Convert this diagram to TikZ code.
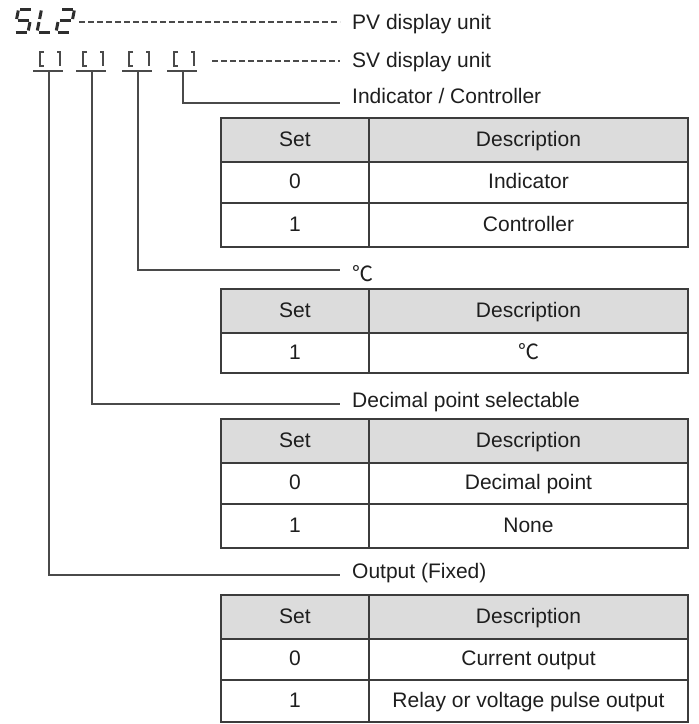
\documentclass[tikz,border=0pt]{standalone}
\usepackage{fontspec}
\setmainfont{Liberation Sans}
\newfontfamily\cjkfont{Noto Sans CJK SC}
\definecolor{lnc}{HTML}{4A4A4A}
\definecolor{tbc}{HTML}{3C3C3C}
\definecolor{hdrc}{HTML}{DCDCDC}
\definecolor{txc}{HTML}{1E1E1E}
\definecolor{segc}{HTML}{2E2E2E}
\definecolor{brc}{HTML}{4A4A4A}
\tikzset{
  seg/.style={draw=segc, line width=3pt, line cap=butt},
  brk/.style={draw=brc, line width=1.3pt},
  conn/.style={draw=lnc, line width=1.4pt},
  dashconn/.style={draw=lnc, line width=1.1pt, dash pattern=on 6pt off 3pt},
  lbl/.style={anchor=base west, inner sep=0pt, text=txc, font=\fontsize{21}{25}\selectfont},
  cell/.style={anchor=base, inner sep=0pt, text=txc, font=\fontsize{21}{25}\selectfont},
  hdr/.style={fill=hdrc},
  inner/.style={draw=tbc, line width=1.4pt},
  outer/.style={draw=tbc, line width=2pt},
}
\begin{document}
\begin{tikzpicture}[x=1pt,y=-1pt]
\useasboundingbox (0,0) rectangle (699,724);

% seven-segment "5L2"
\begin{scope}[shift={(14,32)},xslant=0.2]
  \draw[seg] (1.5,-23)--(12.5,-23);
  \draw[seg] (0,-21.5)--(0,-13);
  \draw[seg] (1.5,-11.5)--(12.5,-11.5);
  \draw[seg] (14,-10)--(14,-1.5);
  \draw[seg] (1.5,0)--(12.5,0);
\end{scope}
\begin{scope}[shift={(37,32)},xslant=0.2]
  \draw[seg] (0,-21.5)--(0,-13);
  \draw[seg] (0,-10)--(0,-1.5);
  \draw[seg] (1.5,0)--(12.5,0);
\end{scope}
\begin{scope}[shift={(56,32)},xslant=0.2]
  \draw[seg] (1.5,-23)--(12.5,-23);
  \draw[seg] (14,-21.5)--(14,-13);
  \draw[seg] (1.5,-11.5)--(12.5,-11.5);
  \draw[seg] (0,-10)--(0,-1.5);
  \draw[seg] (1.5,0)--(12.5,0);
\end{scope}

% brackets [ ] with underlines
\foreach \v in {49,92,138,183}{
  \draw[brk] (\v-5,52) -- (\v-9,52) -- (\v-9,66) -- (\v-5,66);
  \draw[brk] (\v+8,52) -- (\v+11,52) -- (\v+11,66);
  \draw[conn] (\v-16,71) -- (\v+14,71);
}

% coordinates
\coordinate (pv0) at (79,22);
\coordinate (pv1) at (340,22);
\coordinate (sv0) at (212,61);
\coordinate (sv1) at (340,61);
\coordinate (b1) at (49,71);
\coordinate (b2) at (92,71);
\coordinate (b3) at (138,71);
\coordinate (b4) at (183,71);
\coordinate (e1) at (340,103);
\coordinate (e2) at (340,270);
\coordinate (e3) at (340,404);
\coordinate (e4) at (340,575);

% labels
\node[lbl] (pv) at (352,29) {PV display unit};
\node[lbl] (sv) at (352,67) {SV display unit};
\node[lbl] (ic) at (352,103) {Indicator / Controller};
\node[lbl] (dc) at (352,281) {\cjkfont ℃};
\node[lbl] (dp) at (352,407) {Decimal point selectable};
\node[lbl] (of) at (352,578) {Output (Fixed)};

% connectors
\draw[dashconn] (pv0) -- (pv1);
\draw[dashconn] (sv0) -- (sv1);
\draw[conn] (b4) |- (e1);
\draw[conn] (b3) |- (e2);
\draw[conn] (b2) |- (e3);
\draw[conn] (b1) |- (e4);

% table 1
\fill[hdr] (221,118) rectangle (688,162);
\draw[inner] (221,162) -- (688,162);
\draw[inner] (221,203) -- (688,203);
\draw[inner] (369,118) -- (369,247);
\draw[outer] (221,118) rectangle (688,247);
\node[cell] (t1a) at (295,146) {Set};
\node[cell] (t1b) at (528.5,146) {Description};
\node[cell] (t1c) at (295,188) {0};
\node[cell] (t1d) at (528.5,188) {Indicator};
\node[cell] (t1e) at (295,231) {1};
\node[cell] (t1f) at (528.5,231) {Controller};

% table 2
\fill[hdr] (221,289) rectangle (688,333);
\draw[inner] (221,333) -- (688,333);
\draw[inner] (369,289) -- (369,373);
\draw[outer] (221,289) rectangle (688,373);
\node[cell] (t2a) at (295,317) {Set};
\node[cell] (t2b) at (528.5,317) {Description};
\node[cell] (t2c) at (295,359) {1};
\node[cell] (t2d) at (528.5,359) {\cjkfont ℃};

% table 3
\fill[hdr] (221,419) rectangle (688,463);
\draw[inner] (221,463) -- (688,463);
\draw[inner] (221,504) -- (688,504);
\draw[inner] (369,419) -- (369,548);
\draw[outer] (221,419) rectangle (688,548);
\node[cell] (t3a) at (295,447) {Set};
\node[cell] (t3b) at (528.5,447) {Description};
\node[cell] (t3c) at (295,489) {0};
\node[cell] (t3d) at (528.5,489) {Decimal point};
\node[cell] (t3e) at (295,532) {1};
\node[cell] (t3f) at (528.5,532) {None};

% table 4
\fill[hdr] (221,595) rectangle (688,639);
\draw[inner] (221,639) -- (688,639);
\draw[inner] (221,680) -- (688,680);
\draw[inner] (369,595) -- (369,722);
\draw[outer] (221,595) rectangle (688,722);
\node[cell] (t4a) at (295,623) {Set};
\node[cell] (t4b) at (528.5,623) {Description};
\node[cell] (t4c) at (295,665) {0};
\node[cell] (t4d) at (528.5,665) {Current output};
\node[cell] (t4e) at (295,707) {1};
\node[cell] (t4f) at (528.5,707) {Relay or voltage pulse output};
\end{tikzpicture}
\end{document}
